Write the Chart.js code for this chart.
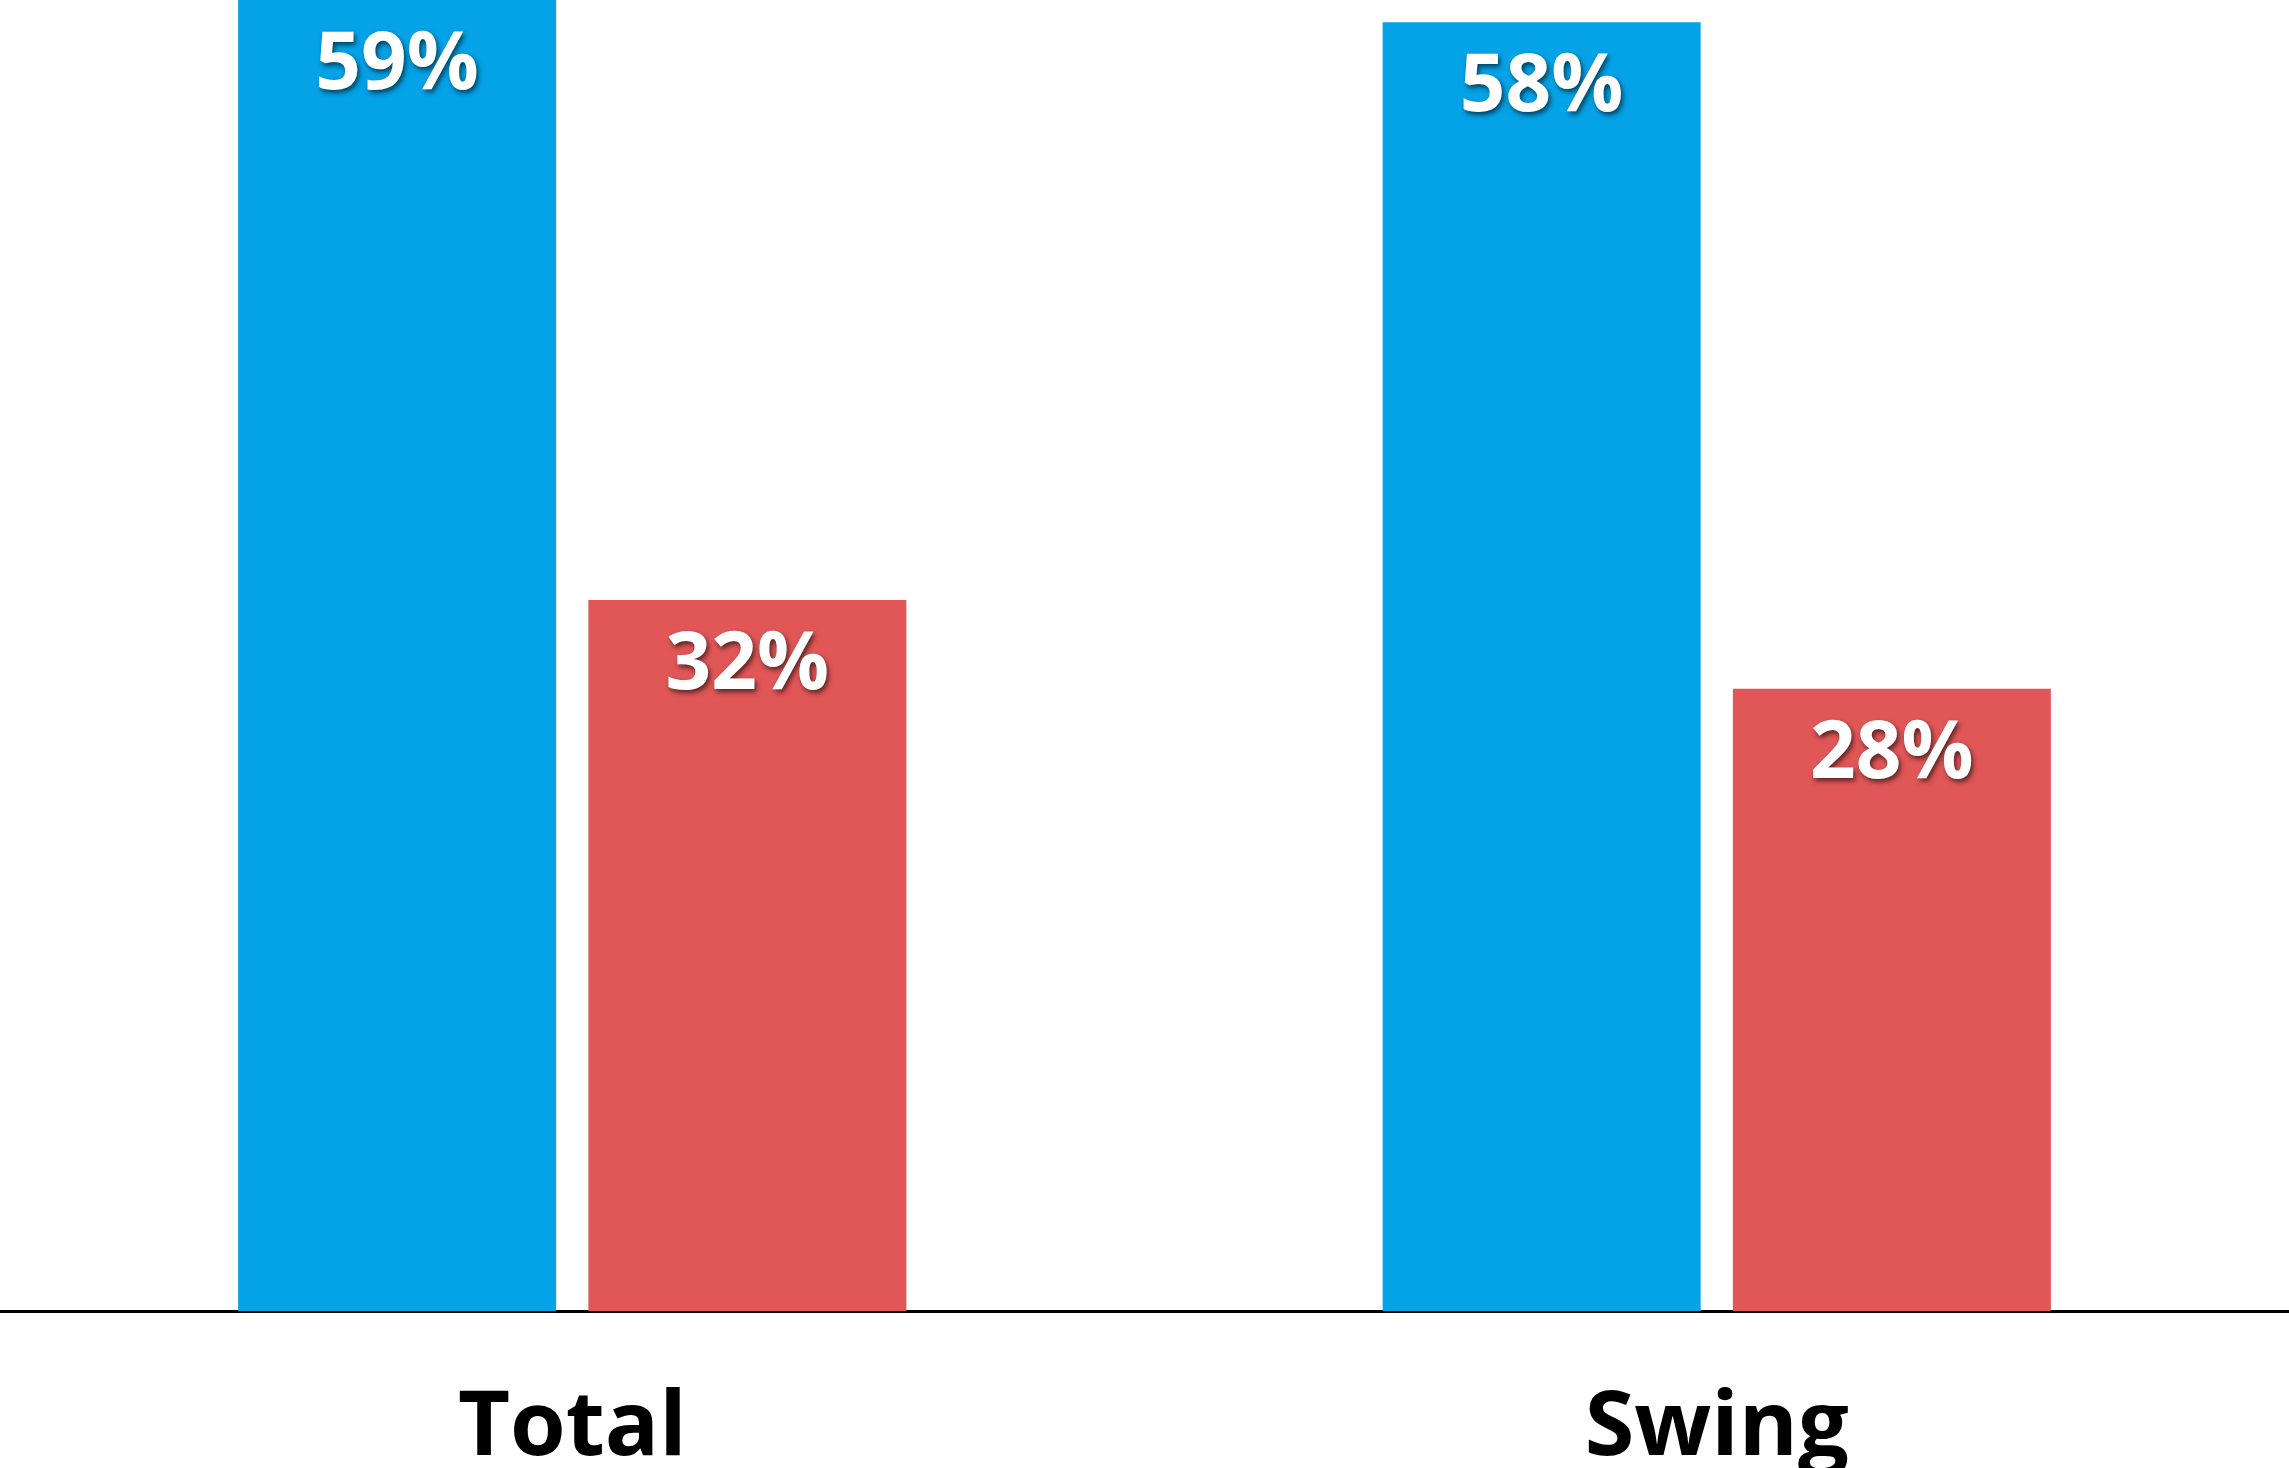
<!DOCTYPE html>
<html>
<head>
<meta charset="utf-8">
<script src="https://cdn.jsdelivr.net/npm/chart.js@4/dist/chart.umd.min.js"></script>
<style>
  html, body { margin: 0; padding: 0; background: #fff; }
  #wrap { width: 2289px; height: 1468px; }
</style>
</head>
<body>
<div id="wrap"><canvas id="barChart" width="2289" height="1468"></canvas></div>
<script>
const categories = ['Total', 'Swing'];
const blueValues = [59, 58];
const redValues = [32, 28];
const yMax = 59;

const BLUE = '#04A2E6';
const RED = '#E15656';
const FONT = '"Open Sans", "Noto Sans", sans-serif';

// white percentage labels just inside the top of each bar
const valueLabels = {
  id: 'valueLabels',
  afterDatasetsDraw(chart) {
    const { ctx } = chart;
    ctx.save();
    ctx.font = `bold 80px ${FONT}`;
    ctx.textAlign = 'center';
    ctx.textBaseline = 'alphabetic';
    ctx.fillStyle = '#fff';
    ctx.shadowColor = 'rgba(0,0,0,0.6)';
    ctx.shadowBlur = 5;
    ctx.shadowOffsetX = 2;
    ctx.shadowOffsetY = 3;
    chart.data.datasets.forEach((ds, i) => {
      chart.getDatasetMeta(i).data.forEach((bar, j) => {
        ctx.fillText(ds.data[j] + '%', bar.x, bar.y + 89);
      });
    });
    ctx.restore();
  }
};

new Chart(document.getElementById('barChart').getContext('2d'), {
  type: 'bar',
  data: {
    labels: categories,
    datasets: [
      { label: 'A', data: blueValues, backgroundColor: BLUE },
      { label: 'B', data: redValues, backgroundColor: RED }
    ]
  },
  options: {
    responsive: false,
    animation: false,
    layout: { padding: 0 },
    datasets: {
      bar: { categoryPercentage: 0.612, barPercentage: 0.908 }
    },
    plugins: {
      legend: { display: false },
      tooltip: { enabled: false }
    },
    scales: {
      x: {
        grid: { display: false },
        border: { display: true, color: '#000', width: 3 },
        afterFit(scale) { scale.height = 157; },
        ticks: {
          color: '#000',
          padding: 56,
          font: { family: FONT, size: 90, weight: 'bold', lineHeight: 1.2 }
        }
      },
      y: {
        display: false,
        min: 0,
        max: yMax
      }
    }
  },
  plugins: [valueLabels]
});
</script>
</body>
</html>
